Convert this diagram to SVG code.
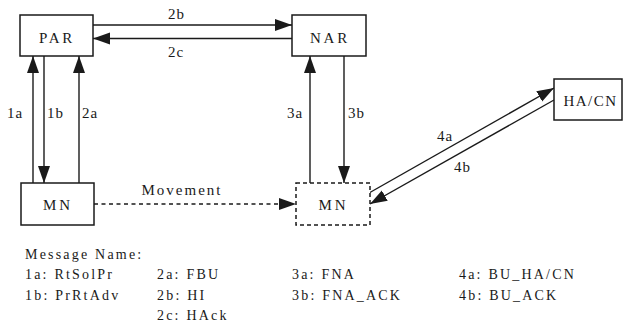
<svg xmlns="http://www.w3.org/2000/svg" width="624" height="331" viewBox="0 0 624 331" font-family="'Liberation Serif', Tinos, 'DejaVu Serif', serif">
<style>
.box{fill:#fff;stroke:#1a1a1a;stroke-width:1.5}
.dbox{fill:#fff;stroke:#1a1a1a;stroke-width:1.5;stroke-dasharray:4 3}
.ln{fill:none;stroke:#1a1a1a;stroke-width:1.4}
.arr{marker-end:url(#ah)}
.dash{stroke-dasharray:4 3.5}
text{font-family:'Liberation Serif', Tinos, 'DejaVu Serif', serif;fill:#1a1a1a}
.nt{font-size:15px;letter-spacing:2.8px;text-anchor:middle}
.lb{font-size:15px;letter-spacing:1px}
.lg{font-size:14px;letter-spacing:2.2px}
</style>
<defs>
<marker id="ah" markerUnits="userSpaceOnUse" markerWidth="18" markerHeight="13" refX="17" refY="6" orient="auto">
<path d="M0,0 L17,6 L0,12 z" fill="#1a1a1a"/>
</marker>
</defs>
<g id="connectors">
<line class="ln arr" x1="93" y1="25" x2="292" y2="25"/>
<line class="ln arr" x1="292" y1="38.5" x2="93" y2="38.5"/>
<line class="ln arr" x1="33" y1="183" x2="33" y2="56"/>
<line class="ln arr" x1="44" y1="56" x2="44" y2="183"/>
<line class="ln arr" x1="79" y1="183" x2="79" y2="56"/>
<line class="ln arr" x1="310" y1="183" x2="310" y2="56"/>
<line class="ln arr" x1="344" y1="56" x2="344" y2="183"/>
<line class="ln arr" x1="369" y1="193" x2="554" y2="88"/>
<line class="ln arr" x1="554" y1="100" x2="370" y2="204"/>
<line class="ln arr dash" x1="94" y1="204" x2="296" y2="204"/>
<text class="lb" x="168" y="18.5">2b</text>
<text class="lb" x="168" y="56.5">2c</text>
<text class="lb" x="7" y="118">1a</text>
<text class="lb" x="47" y="118">1b</text>
<text class="lb" x="82" y="118">2a</text>
<text class="lb" x="287" y="118">3a</text>
<text class="lb" x="348" y="118">3b</text>
<text class="lb" x="437" y="141">4a</text>
<text class="lb" x="454" y="172">4b</text>
<text class="nt" x="182" y="195" style="letter-spacing:2px">Movement</text>
</g>
<g id="PAR">
<rect class="box" x="20" y="15" width="73" height="41"/>
<text class="nt" x="57" y="43">PAR</text>
</g>
<g id="NAR">
<rect class="box" x="292" y="15" width="74" height="41"/>
<text class="nt" x="330" y="42.5">NAR</text>
</g>
<g id="HACN">
<rect class="box" x="554" y="79" width="68" height="41"/>
<text class="nt" x="590.5" y="106" style="letter-spacing:1.5px">HA/CN</text>
</g>
<g id="MN">
<rect class="box" x="21" y="183" width="73" height="42"/>
<text class="nt" x="58" y="209.5">MN</text>
</g>
<g id="MN2">
<rect class="dbox" x="296" y="183" width="74" height="42"/>
<text class="nt" x="333.5" y="210">MN</text>
</g>
<g id="legend">
<text class="lg" x="25" y="259">Message Name:</text>
<text class="lg" x="25" y="279">1a: RtSolPr</text>
<text class="lg" x="25" y="300">1b: PrRtAdv</text>
<text class="lg" x="157" y="279">2a: FBU</text>
<text class="lg" x="157" y="300">2b: HI</text>
<text class="lg" x="157" y="320">2c: HAck</text>
<text class="lg" x="292" y="279">3a: FNA</text>
<text class="lg" x="292" y="300">3b: FNA_ACK</text>
<text class="lg" x="459" y="279">4a: BU_HA/CN</text>
<text class="lg" x="459" y="300">4b: BU_ACK</text>
</g>
</svg>
